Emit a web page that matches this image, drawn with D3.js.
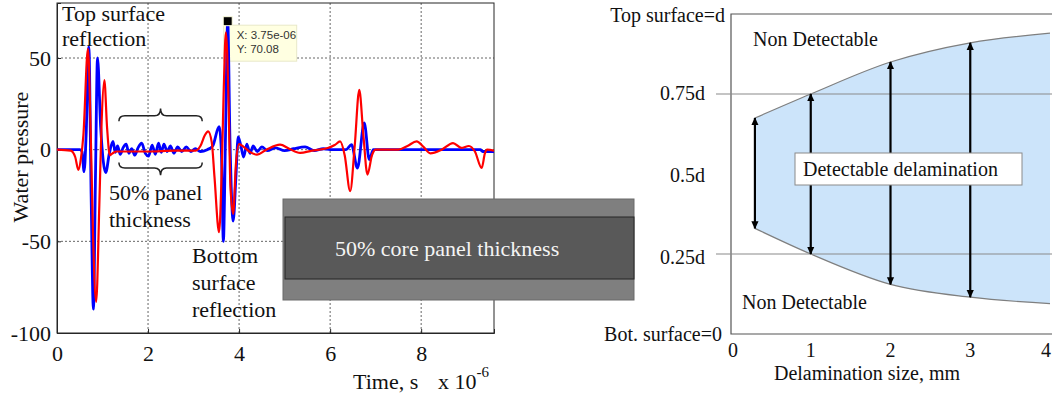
<!DOCTYPE html>
<html><head><meta charset="utf-8">
<script src="https://cdn.jsdelivr.net/npm/d3@7"></script>
<style>body{margin:0;background:#fff}svg{display:block}</style>
</head><body>
<svg id="fig" width="1052" height="400"></svg>
<script>
// ---- Ultrasonic waveforms (time in microseconds, water pressure) ----
const blueTime = [0,0.50,0.55,0.595,0.64,0.70,0.75,0.80,0.845,0.89,0.96,1.07,1.15,1.23,1.28,1.33,1.39,1.45,1.52,1.58,1.64,1.71,1.78,1.86,1.94,2.01,2.09,2.16,2.23,2.29,2.35,2.42,2.49,2.57,2.65,2.74,2.84,2.94,3.04,3.15,3.30,3.42,3.56,3.61,3.655,3.70,3.75,3.80,3.87,3.93,3.98,4.04,4.10,4.17,4.24,4.31,4.40,4.50,4.62,4.80,5.00,5.20,5.45,5.65,5.85,6.00,6.35,6.47,6.60,6.75,6.86,6.95,9.30,9.35,9.60];
const bluePressure = [0,0,-1,-12,8,56,-25,-87,-15,50,12,-12.5,-2,4.5,-1.5,2,-2.5,1,3,-2,0.5,-3,1,3.5,-2,-3.5,2.5,-2.5,3.5,-1.5,3,-1,2,-2,1.5,-1,1.5,-1,0.5,-1,0,2,12.5,0,-50,5,70.08,5,-39,-15,7,2,-4,3,-2,2,-1,1.5,-0.5,1,-0.5,0.5,1.5,-0.5,0.5,0,0,2.7,-10,14.6,-5.4,0,0,-1,-1];
const redTime = [0,0.30,0.40,0.47,0.53,0.58,0.68,0.74,0.79,0.86,0.93,0.98,1.04,1.10,1.16,1.22,1.30,2.00,2.60,3.05,3.15,3.25,3.32,3.40,3.46,3.56,3.62,3.66,3.71,3.77,3.81,3.87,3.93,4.00,4.10,4.25,4.39,4.60,4.90,5.10,5.34,5.60,5.95,6.10,6.22,6.32,6.44,6.54,6.64,6.73,6.82,6.92,7.00,7.50,7.70,7.90,8.05,8.20,8.45,8.70,8.88,9.05,9.18,9.33,9.40,9.45,9.60];
const redPressure = [0,-0.5,-4,-11,-4,8,55,10,-45,-83,-30,15,38,12,-3,-2,-1,-1,-0.5,-0.5,2,8,10,4,-15,-45,-10,30,64,25,-20,-35,-8,3,1.5,-1.5,-2.7,0,2.7,0.5,-1.8,-0.5,0.9,2.5,4.5,-3,-22.6,2,32.6,8,-13.6,-3,0,0,2,4.5,1.5,-2,0,3.6,1,2,-1,-10,-2,0,-0.5];
const timeTicks = [0,2,4,6,8];
const pressureTicks = [50,0,-50,-100];
const tipTime = 3.75, tipPressure = 70.08;

// ---- Detectable delamination zone ----
const delamSizes = [0.3,1,2,3,4];
const upperBound = [0.675,0.75,0.85,0.91,0.94];
const lowerBound = [0.33,0.25,0.155,0.115,0.095];
const arrowSizes = [0.3,1,2,3];
const sizeTicks = [0,1,2,3,4];
const depthValues = [1,0.75,0.5,0.25,0];
const depthLabels = ["Top surface=d","0.75d","0.5d","0.25d","Bot. surface=0"];
const refDepths = [0.75,0.25];

const svg = d3.select("#fig");
const serif = "'Liberation Serif','Times New Roman',serif";
const sans = "'Liberation Sans',Arial,sans-serif";

// ================= Left: waveform plot =================
const x = d3.scaleLinear([0,9.6],[57,494]);
const y = d3.scaleLinear([-100,80],[333,3]);
const L = svg.append("g");

L.append("clipPath").attr("id","plotclip").append("rect")
  .attr("x",57).attr("y",3).attr("width",437).attr("height",330);

// grid
L.append("g").selectAll("line").data(timeTicks.filter(d=>d>0)).join("line")
  .attr("x1",d=>x(d)).attr("x2",d=>x(d)).attr("y1",y(80)).attr("y2",y(-100))
  .attr("stroke","#666").attr("stroke-dasharray","2,2");
L.append("g").selectAll("line").data(pressureTicks.filter(d=>d>-100)).join("line")
  .attr("x1",x(0)).attr("x2",x(9.6)).attr("y1",d=>y(d)).attr("y2",d=>y(d))
  .attr("stroke","#666").attr("stroke-dasharray","2,2");

// axes
const xAxis = d3.axisBottom(x).tickValues(timeTicks).tickSize(-4).tickPadding(8).tickFormat(d3.format("d"));
const yAxis = d3.axisLeft(y).tickValues(pressureTicks).tickSize(-4).tickPadding(6).tickFormat(d=>String(d));
const gx = L.append("g").attr("transform",`translate(0,${y(-100)})`).call(xAxis);
const gy = L.append("g").attr("transform",`translate(${x(0)},0)`).call(yAxis);
[gx,gy].forEach(g=>{
  g.select(".domain").attr("stroke","#262626");
  g.selectAll(".tick line").attr("stroke","#262626");
  g.selectAll("text").attr("font-family",serif).attr("font-size",22).attr("fill","#111");
});
gx.selectAll("text").attr("dy","0.9em");
L.append("rect").attr("x",x(0)).attr("y",y(80)).attr("width",x(9.6)-x(0)).attr("height",y(-100)-y(80))
  .attr("fill","none").attr("stroke","#262626");

// data tip box (behind traces)
L.append("rect").attr("x",x(tipTime)-4).attr("y",y(tipPressure)+4).attr("width",73).attr("height",36)
  .attr("fill","#ffffe1").attr("stroke","#e8e8c8");

// traces
const line = d3.line().x(d=>x(d[0])).y(d=>y(d[1])).curve(d3.curveMonotoneX);
const blueData = d3.zip(blueTime,bluePressure);
const redData = d3.zip(redTime,redPressure);
const traces = L.append("g").attr("clip-path","url(#plotclip)");
traces.append("path").datum(blueData).attr("d",line).attr("fill","none")
  .attr("stroke","#0000ff").attr("stroke-width",2.8).attr("stroke-linejoin","round");
traces.append("path").datum(redData).attr("d",line).attr("fill","none")
  .attr("stroke","#ff0000").attr("stroke-width",2.2).attr("stroke-linejoin","round");

// data tip marker and text
L.append("rect").attr("x",x(tipTime)-4.5).attr("y",y(tipPressure)-4.5).attr("width",9).attr("height",9)
  .attr("fill","#000").attr("stroke","#ffffe1").attr("stroke-width",1);
const tip = L.append("text").attr("font-family",sans).attr("font-size",11.5).attr("fill","#333");
tip.append("tspan").attr("x",x(tipTime)+9).attr("y",y(tipPressure)+18).text("X: 3.75e-06");
tip.append("tspan").attr("x",x(tipTime)+9).attr("y",y(tipPressure)+32).text("Y: " + tipPressure.toFixed(2));

// axis titles
L.append("text").attr("transform",`translate(28,157) rotate(-90)`).attr("text-anchor","middle")
  .attr("font-family",serif).attr("font-size",22).attr("fill","#111").text("Water pressure");
const xt = L.append("text").attr("x",353).attr("y",389).attr("font-family",serif).attr("font-size",22).attr("fill","#111");
xt.append("tspan").text("Time, s");
xt.append("tspan").attr("x",438).text("x 10");
xt.append("tspan").attr("dy",-12).attr("font-size",15).text("-6");

// annotations
function multiText(g, xp, yp, lines, step){
  const t = g.append("text").attr("font-family",serif).attr("font-size",22).attr("fill","#111");
  lines.forEach((s,i)=>t.append("tspan").attr("x",xp).attr("y",yp+i*step).text(s));
}
multiText(L, 62, 21, ["Top surface","reflection"], 25);
multiText(L, 109, 200, ["50% panel","thickness"], 27);
multiText(L, 192, 263, ["Bottom","surface","reflection"], 27);

// curly braces spanning the inter-echo interval
function brace(g, x1, x2, yEnd, yMid, yTip){
  const xm = (x1+x2)/2, r = 6;
  const p = `M${x1},${yEnd} Q${x1},${yMid} ${x1+r},${yMid} L${xm-r},${yMid} Q${xm},${yMid} ${xm},${yTip}`
          + ` Q${xm},${yMid} ${xm+r},${yMid} L${x2-r},${yMid} Q${x2},${yMid} ${x2},${yEnd}`;
  g.append("path").attr("d",p).attr("fill","none").attr("stroke","#222").attr("stroke-width",1.5);
}
brace(L, x(1.36), x(3.19), y(15.5), y(18.5), y(22.5));
brace(L, x(1.36), x(3.19), y(-7), y(-10), y(-14));

// sandwich panel sketch
const P = svg.append("g");
P.append("rect").attr("x",283).attr("y",199).attr("width",351).attr("height",101)
  .attr("fill","#7f7f7f").attr("stroke","#6a6a6a");
P.append("rect").attr("x",285).attr("y",217).attr("width",349).attr("height",62)
  .attr("fill","#595959").attr("stroke","#262626");
P.append("text").attr("x",335).attr("y",256).attr("font-family",serif).attr("font-size",22)
  .attr("fill","#f4f4f4").text("50% core panel thickness");

// ================= Right: detectability zone =================
const xs = d3.scaleLinear([0,4],[731,1050]);
const ys = d3.scaleLinear([0,1],[334,14]);
const R = svg.append("g");
const zone = delamSizes.map((s,i)=>({s, lo:lowerBound[i], hi:upperBound[i]}));

R.append("path").datum(zone)
  .attr("d", d3.area().x(d=>xs(d.s)).y0(d=>ys(d.lo)).y1(d=>ys(d.hi)).curve(d3.curveMonotoneX))
  .attr("fill","#cce4fa");
["hi","lo"].forEach(k=>{
  R.append("path").datum(zone)
    .attr("d", d3.line().x(d=>xs(d.s)).y(d=>ys(d[k])).curve(d3.curveMonotoneX))
    .attr("fill","none").attr("stroke","#7f7f7f").attr("stroke-width",1.2);
});

// frame
R.append("path").attr("d",`M${xs(4)+4},${ys(1)} H${xs(0)} V${ys(0)} H${xs(4)+4}`)
  .attr("fill","none").attr("stroke","#555").attr("stroke-width",1.2);

// reference depth lines
R.selectAll("line.ref").data(refDepths).join("line").attr("class","ref")
  .attr("x1",716).attr("x2",1052).attr("y1",d=>ys(d)).attr("y2",d=>ys(d))
  .attr("stroke","#8a8a8a").attr("stroke-width",1.2);

// double-headed arrows
const defs = svg.append("defs");
defs.append("marker").attr("id","ah").attr("viewBox","0 0 10 10").attr("refX",9).attr("refY",5)
  .attr("markerUnits","userSpaceOnUse").attr("markerWidth",8).attr("markerHeight",9)
  .attr("orient","auto-start-reverse")
  .append("path").attr("d","M0,0.5 L10,5 L0,9.5 Z").attr("fill","#000");
R.selectAll("line.arr").data(zone.filter(d=>arrowSizes.includes(d.s))).join("line").attr("class","arr")
  .attr("x1",d=>xs(d.s)).attr("x2",d=>xs(d.s)).attr("y1",d=>ys(d.lo)).attr("y2",d=>ys(d.hi))
  .attr("stroke","#000").attr("stroke-width",2.2)
  .attr("marker-start","url(#ah)").attr("marker-end","url(#ah)");

// label box
R.append("rect").attr("x",795).attr("y",153).attr("width",227).attr("height",32)
  .attr("fill","#fff").attr("stroke","#8a8a8a");
R.append("text").attr("x",803).attr("y",176).attr("font-family",serif).attr("font-size",20)
  .attr("fill","#111").text("Detectable delamination");
R.append("text").attr("x",753).attr("y",46).attr("font-family",serif).attr("font-size",20)
  .attr("fill","#111").text("Non Detectable");
R.append("text").attr("x",742).attr("y",309).attr("font-family",serif).attr("font-size",20)
  .attr("fill","#111").text("Non Detectable");

// depth labels
const depthX = [725,705,705,705,722];
const depthDy = [8,6,8,10,7];
R.selectAll("text.depth").data(depthValues).join("text").attr("class","depth")
  .attr("x",(d,i)=>depthX[i]).attr("y",(d,i)=>ys(d)+depthDy[i]).attr("text-anchor","end")
  .attr("font-family",serif).attr("font-size",20).attr("fill","#111").text((d,i)=>depthLabels[i]);

// size ticks and title (last label nudged inside the canvas edge)
R.selectAll("text.size").data(sizeTicks).join("text").attr("class","size")
  .attr("x",d=>xs(d)+(d===0?2:d===4?-4:0)).attr("y",357).attr("text-anchor","middle")
  .attr("font-family",serif).attr("font-size",20).attr("fill","#111").text(d=>d);
R.append("text").attr("x",867).attr("y",380).attr("text-anchor","middle")
  .attr("font-family",serif).attr("font-size",20).attr("fill","#111").text("Delamination size, mm");
</script>
</body></html>
